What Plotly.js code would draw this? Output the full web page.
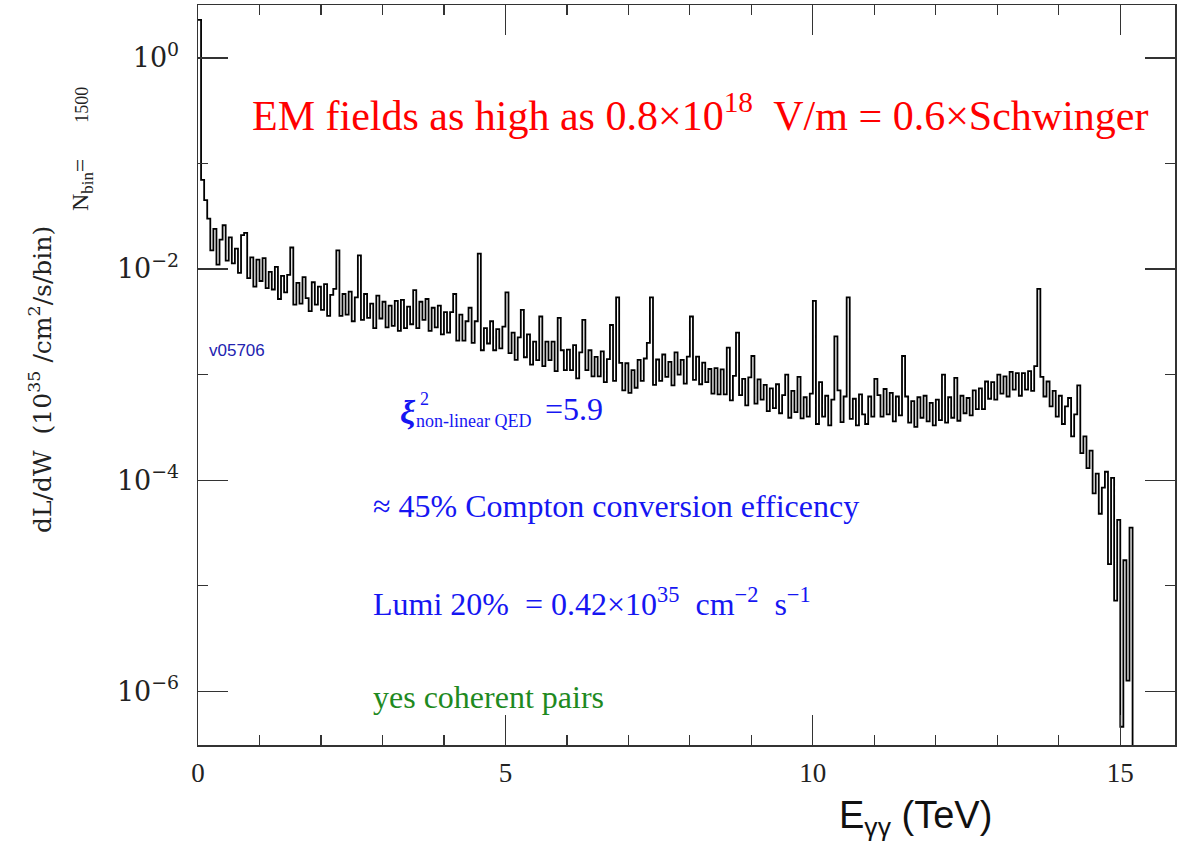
<!DOCTYPE html>
<html><head><meta charset="utf-8">
<script src="https://cdn.plot.ly/plotly-3.0.1.min.js"></script>
<style>html,body{margin:0;padding:0;background:#fff}</style>
</head><body><div id="chart" style="width:1184px;height:847px"></div>
<script>
// Histogram bins: left edges start at 0, width 0.05 TeV
const binStart = 0;
const binWidth = 0.05;
// dL/dW per bin (10^35 /cm^2/s/bin)
const lumi = [
  2.3, 7.0e-2, 4.5e-2, 3.0e-2, 1.5e-2, 2.4e-2, 1.1e-2, 1.9e-2, 2.6e-2, 1.2e-2,
  2.0e-2, 1.13e-2, 1.56e-2, 9.2e-3, 2.1e-2, 2.2e-2, 8.2e-3, 1.29e-2, 6.8e-3, 1.23e-2,
  7.7e-3, 1.27e-2, 6.6e-3, 9.4e-3, 6.4e-3, 1.05e-2, 5.2e-3, 8.6e-3, 6.0e-3, 8.8e-3,
  1.6e-2, 4.6e-3, 7.4e-3, 4.7e-3, 8.4e-3, 5.3e-3, 4.0e-3, 7.5e-3, 4.6e-3, 6.8e-3,
  4.1e-3, 7.2e-3, 3.6e-3, 5.7e-3, 6.5e-3, 1.5e-2, 3.6e-3, 5.8e-3, 3.7e-3, 6.1e-3,
  3.2e-3, 5.4e-3, 1.35e-2, 3.3e-3, 5.8e-3, 3.45e-3, 4.7e-3, 2.75e-3, 5.6e-3, 3.4e-3,
  4.9e-3, 2.8e-3, 4.5e-3, 2.9e-3, 5.0e-3, 2.6e-3, 5.1e-3, 2.75e-3, 4.4e-3, 3.0e-3,
  6.3e-3, 2.75e-3, 4.9e-3, 3.3e-3, 5.2e-3, 2.6e-3, 4.3e-3, 2.8e-3, 4.5e-3, 2.4e-3,
  3.9e-3, 2.5e-3, 3.9e-3, 5.8e-3, 2.1e-3, 3.7e-3, 2.1e-3, 3.2e-3, 4.3e-3, 2.0e-3,
  3.2e-3, 1.4e-2, 1.7e-3, 2.75e-3, 1.97e-3, 3.2e-3, 1.7e-3, 2.7e-3, 1.77e-3, 2.85e-3,
  6.0e-3, 1.6e-3, 2.5e-3, 1.38e-3, 2.25e-3, 4.1e-3, 1.46e-3, 2.4e-3, 1.24e-3, 2.05e-3,
  1.37e-3, 3.55e-3, 1.2e-3, 2.05e-3, 1.37e-3, 2.05e-3, 1.08e-3, 3.45e-3, 1.7e-3, 1.1e-3,
  1.72e-3, 1.1e-3, 1.9e-3, 9.2e-4, 1.62e-3, 3.3e-3, 1.1e-3, 1.7e-3, 9.6e-4, 1.47e-3,
  9.6e-4, 1.66e-3, 8.5e-4, 1.4e-3, 2.95e-3, 8.7e-4, 5.4e-3, 1.29e-3, 7.1e-4, 1.28e-3,
  6.7e-4, 1.1e-3, 7.5e-4, 1.38e-3, 8.7e-4, 1.42e-3, 2.0e-3, 5.4e-3, 8.0e-4, 1.39e-3,
  8.7e-4, 1.55e-3, 9.5e-4, 1.32e-3, 7.9e-4, 1.62e-3, 1.0e-3, 1.38e-3, 8.2e-4, 1.48e-3,
  3.55e-3, 8.9e-4, 1.48e-3, 8.1e-4, 1.3e-3, 8.5e-4, 1.13e-3, 6.6e-4, 1.15e-3, 6.5e-4,
  1.12e-3, 6.5e-4, 1.8e-3, 5.7e-4, 9.7e-4, 2.5e-3, 6.4e-4, 9.1e-4, 5.1e-4, 9.4e-4,
  1.5e-3, 5.3e-4, 9.0e-4, 5.8e-4, 8.0e-4, 4.5e-4, 7.4e-4, 4.8e-4, 8.1e-4, 4.3e-4,
  6.4e-4, 1.0e-3, 3.9e-4, 7.0e-4, 4.4e-4, 9.5e-4, 3.85e-4, 6.1e-4, 4.0e-4, 6.6e-4,
  5.0e-3, 3.4e-4, 8.5e-4, 4.0e-4, 6.3e-4, 3.3e-4, 5.8e-4, 2.3e-3, 7.1e-4, 3.55e-4,
  6.2e-4, 5.4e-3, 3.8e-4, 5.9e-4, 3.3e-4, 6.5e-4, 4.2e-4, 3.4e-4, 6.2e-4, 4.0e-4,
  9.1e-4, 6.4e-4, 4.0e-4, 7.3e-4, 4.2e-4, 6.7e-4, 3.6e-4, 6.2e-4, 4.1e-4, 1.5e-3,
  6.2e-4, 3.5e-4, 5.6e-4, 3.2e-4, 6.1e-4, 3.9e-4, 6.3e-4, 3.6e-4, 5.4e-4, 3.3e-4,
  5.8e-4, 3.7e-4, 1.0e-3, 3.5e-4, 6.1e-4, 3.9e-4, 9.3e-4, 3.65e-4, 6.3e-4, 4.3e-4,
  6.0e-4, 4.1e-4, 7.1e-4, 4.7e-4, 7.4e-4, 4.7e-4, 8.6e-4, 5.9e-4, 8.5e-4, 5.8e-4,
  1.0e-3, 6.6e-4, 9.6e-4, 6.2e-4, 1.06e-3, 7.2e-4, 1.03e-3, 6.3e-4, 1.03e-3, 7.2e-4,
  1.08e-3, 7.0e-4, 1.2e-3, 6.5e-3, 9.5e-4, 6.2e-4, 8.6e-4, 5.0e-4, 7.0e-4, 4.0e-4,
  6.3e-4, 3.4e-4, 5.0e-4, 6.0e-4, 2.6e-4, 4.2e-4, 7.9e-4, 1.8e-4, 2.6e-4, 1.3e-4,
  1.9e-4, 7.5e-5, 1.15e-4, 4.8e-5, 8.5e-5, 1.2e-4, 1.6e-5, 1.05e-4, 7.2e-6, 4.2e-5,
  4.6e-7, 1.74e-5, 1.26e-6, 3.55e-5, 1.0e-7
];
const xTickVals = [0, 5, 10, 15];
const xTickText = ['0', '5', '10', '15'];
const xMinorVals = [1, 2, 3, 4, 6, 7, 8, 9, 11, 12, 13, 14];
const yTickVals = [1, 1e-2, 1e-4, 1e-6];
const yTickText = ['10<sup>0</sup>', '10<sup>−2</sup>', '10<sup>−4</sup>', '10<sup>−6</sup>'];
const yMinorVals = [1e-1, 1e-3, 1e-5];

// bin edges for the step line
const xs = lumi.map((_, i) => binStart + i * binWidth);
const ys = lumi.slice();
xs.push(binStart + lumi.length * binWidth);
ys.push(lumi[lumi.length - 1]);

// plot area in pixels
const L = 198, R = 1175, T = 5, B = 745;
const px = v => (v - L) / (R - L);
const py = v => (B - v) / (B - T);

const serif = 'Liberation Serif, Times New Roman, serif';
const blue = '#1616f2';
function ann(text, x, y, size, color, opts) {
  return Object.assign({
    text: text, xref: 'paper', yref: 'paper', x: px(x), y: py(y),
    xanchor: 'left', yanchor: 'middle', showarrow: false,
    font: {family: serif, size: size, color: color}
  }, opts || {});
}

const annotations = [
  ann('EM fields as high as 0.8×10<sup>18</sup>  V/m = 0.6×Schwinger', 250, 113, 42, '#ff0000'),
  ann('v05706', 207, 350, 17, '#2323b0', {font: {family: 'Liberation Sans, Arial, sans-serif', size: 17, color: '#2323b0'}}),
  ann('<b><i>ξ</i></b>', 398, 413, 34, blue),
  ann('2', 418, 399, 18, blue),
  ann('non-linear QED', 414, 421, 18, blue),
  ann('=5.9', 543, 409, 32, blue),
  ann('≈ 45% Compton conversion efficency', 371, 506, 32, blue),
  ann('Lumi 20%  = 0.42×10<sup>35</sup>  cm<sup>−2</sup>  s<sup>−1</sup>', 371, 602, 32, blue),
  ann('yes coherent pairs', 371, 697, 32, '#1f8a1f'),
  ann('dL/dW  (10<sup>35</sup> /cm<sup>2</sup>/s/bin)', 40, 380, 25, '#222',
      {xanchor: 'center', textangle: -90, font: {family: 'DejaVu Serif, serif', size: 25, color: '#222'}}),
  ann('N<sub>bin</sub>=      <span style="font-size:18px">1500</span>', 82, 149, 24, '#222',
      {xanchor: 'center', textangle: -90}),
  ann('E<sub>γγ</sub> (TeV)', 915, 818, 38, '#111',
      {xanchor: 'center', font: {family: 'Liberation Sans, Arial, sans-serif', size: 38, color: '#111'}})
];

const trace = {
  x: xs, y: ys, type: 'scatter', mode: 'lines',
  line: {shape: 'hv', color: '#000', width: 1.8},
  hoverinfo: 'skip', showlegend: false
};

const layout = {
  width: 1184, height: 847,
  margin: {l: L, r: 1184 - R, t: T, b: 847 - B, pad: 0},
  paper_bgcolor: '#fff', plot_bgcolor: '#fff',
  showlegend: false,
  xaxis: {
    range: [0, 15.89], showgrid: false, zeroline: false,
    showline: true, linecolor: '#333', linewidth: 1.5, mirror: 'ticks',
    ticks: 'inside', ticklen: 30, tickwidth: 1.2, tickcolor: '#333',
    tickmode: 'array', tickvals: xTickVals, ticktext: xTickText,
    tickfont: {family: serif, size: 27, color: '#222'},
    ticklabelstandoff: 3,
    minor: {tickmode: 'array', tickvals: xMinorVals, ticks: 'inside', ticklen: 10, tickwidth: 1.2, tickcolor: '#333', showgrid: false}
  },
  yaxis: {
    type: 'log', range: [-6.51, 0.502], showgrid: false, zeroline: false,
    showline: true, linecolor: '#333', linewidth: 1.5, mirror: 'ticks',
    ticks: 'inside', ticklen: 30, tickwidth: 1.2, tickcolor: '#333',
    tickmode: 'array', tickvals: yTickVals, ticktext: yTickText,
    tickfont: {family: 'DejaVu Serif, serif', size: 27, color: '#222'},
    ticklabelstandoff: 12,
    minor: {tickmode: 'array', tickvals: yMinorVals, ticks: 'inside', ticklen: 10, tickwidth: 1.2, tickcolor: '#333', showgrid: false}
  },
  annotations: annotations
};

Plotly.newPlot('chart', [trace], layout, {displayModeBar: false, staticPlot: true});
</script>
</body></html>
